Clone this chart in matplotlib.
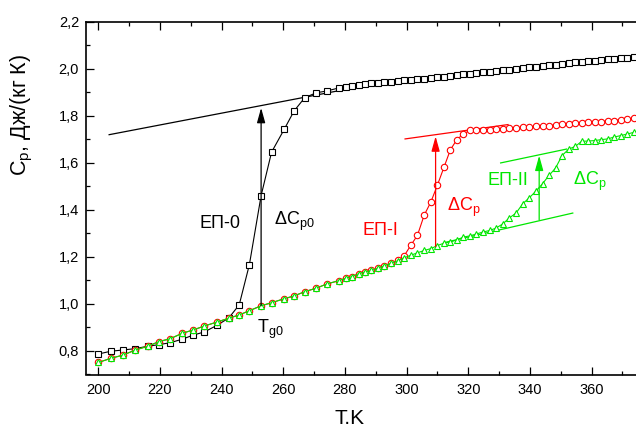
import matplotlib
matplotlib.use("Agg")
import matplotlib.pyplot as plt
from matplotlib.ticker import MultipleLocator, FuncFormatter

plt.rcParams['font.family'] = ['Liberation Sans', 'DejaVu Sans']
plt.rcParams['mathtext.fontset'] = 'custom'
plt.rcParams['mathtext.rm'] = 'Liberation Sans'
plt.rcParams['mathtext.it'] = 'Liberation Sans:italic'

# measurement temperatures, K
T = [200.0, 204.1, 207.9, 212.0, 216.0, 219.7, 223.3, 227.2, 230.7, 234.4,
     238.5, 242.3, 245.7, 249.0, 252.8, 256.2, 260.3, 263.5, 267.0, 270.7,
     274.2, 278.1, 280.2, 282.3, 284.4, 286.5, 288.6, 290.7, 292.8, 294.9,
     297.1, 299.2, 301.4, 303.5, 305.7, 307.9, 310.0, 312.1, 314.2, 316.3,
     318.4, 320.5, 322.6, 324.7, 326.9, 329.0, 331.2, 333.3, 335.5, 337.7,
     339.8, 342.0, 344.1, 346.2, 348.3, 350.4, 352.6, 354.7, 356.8, 358.9,
     361.0, 363.1, 365.2, 367.3, 369.4, 371.6, 373.7]

# specific heat, J/(kg K)
cp_ep0 = [0.787, 0.799, 0.804, 0.810, 0.820, 0.827, 0.835, 0.850, 0.867, 0.881,
          0.909, 0.940, 0.996, 1.167, 1.460, 1.645, 1.742, 1.820, 1.877, 1.897,
          1.905, 1.918, 1.921, 1.927, 1.931, 1.934, 1.938, 1.938, 1.942, 1.944,
          1.947, 1.950, 1.953, 1.954, 1.957, 1.960, 1.963, 1.966, 1.969, 1.972,
          1.975, 1.978, 1.981, 1.984, 1.987, 1.990, 1.993, 1.996, 1.999, 2.002,
          2.005, 2.008, 2.011, 2.014, 2.017, 2.020, 2.023, 2.026, 2.029, 2.031,
          2.034, 2.037, 2.040, 2.042, 2.045, 2.047, 2.049]

cp_ep1 = [0.751, 0.769, 0.782, 0.804, 0.820, 0.840, 0.852, 0.875, 0.889, 0.906,
          0.923, 0.939, 0.953, 0.971, 0.992, 1.005, 1.022, 1.034, 1.052, 1.067,
          1.085, 1.099, 1.109, 1.116, 1.128, 1.136, 1.142, 1.152, 1.162, 1.173,
          1.185, 1.204, 1.250, 1.291, 1.377, 1.434, 1.505, 1.580, 1.655, 1.698,
          1.722, 1.737, 1.739, 1.739, 1.740, 1.742, 1.745, 1.746, 1.748, 1.750,
          1.752, 1.754, 1.756, 1.758, 1.760, 1.763, 1.766, 1.767, 1.769, 1.771,
          1.773, 1.775, 1.777, 1.779, 1.782, 1.785, 1.789]

cp_ep2 = [0.751, 0.769, 0.782, 0.804, 0.820, 0.840, 0.852, 0.875, 0.889, 0.906,
          0.923, 0.939, 0.953, 0.971, 0.992, 1.005, 1.022, 1.034, 1.052, 1.067,
          1.085, 1.099, 1.109, 1.116, 1.128, 1.136, 1.142, 1.152, 1.162, 1.173,
          1.183, 1.196, 1.207, 1.217, 1.227, 1.235, 1.248, 1.258, 1.263, 1.272,
          1.284, 1.289, 1.297, 1.305, 1.312, 1.322, 1.340, 1.365, 1.386, 1.426,
          1.451, 1.480, 1.511, 1.546, 1.577, 1.630, 1.658, 1.669, 1.691, 1.692,
          1.694, 1.698, 1.701, 1.709, 1.715, 1.722, 1.729]

# baseline tangents (T pairs, Cp pairs)
tan0_T, tan0_cp = [203.5, 292.0], [1.719, 1.941]
tan1_T, tan1_cp = [299.5, 332.9], [1.701, 1.762]
tan2u_T, tan2u_cp = [330.5, 351.9], [1.599, 1.658]
tan2l_T, tan2l_cp = [312.0, 353.9], [1.260, 1.386]

# step arrows: (T, Cp from, Cp to)
arrow0 = (252.8, 0.992, 1.833)
arrow1 = (309.4, 1.244, 1.712)
arrow2 = (343.0, 1.357, 1.630)

RED = '#ff0000'
GREEN = '#00e600'

W, H = 636, 428
fig = plt.figure(figsize=(W / 100, H / 100), dpi=100)
left, right, top, bottom = 86, 650, 21.5, 374.5
ax = fig.add_axes([left / W, 1 - bottom / H, (right - left) / W, (bottom - top) / H])

ax.plot(T, cp_ep0, color='black', lw=0.8, marker='s', ms=4.2, mfc='white',
        mec='black', mew=0.8, zorder=3)
ax.plot(T, cp_ep1, color=RED, lw=0.8, marker='o', ms=4.6, mfc='white',
        mec=RED, mew=0.8, zorder=3)
ax.plot(T, cp_ep2, color=GREEN, lw=0.8, marker='^', ms=5.0, mfc='white',
        mec=GREEN, mew=0.8, zorder=4)

ax.plot(tan0_T, tan0_cp, color='black', lw=0.9, zorder=2)
ax.plot(tan1_T, tan1_cp, color=RED, lw=0.9, zorder=2)
ax.plot(tan2u_T, tan2u_cp, color=GREEN, lw=0.9, zorder=2)
ax.plot(tan2l_T, tan2l_cp, color=GREEN, lw=0.9, zorder=2)

for (xa, y0, y1), c in [(arrow0, 'black'), (arrow1, RED), (arrow2, GREEN)]:
    ax.annotate('', xy=(xa, y1), xytext=(xa, y0),
                arrowprops=dict(arrowstyle='-|>,head_length=0.9,head_width=0.25',
                                mutation_scale=10, lw=0.9, color=c,
                                shrinkA=0, shrinkB=0), zorder=5)

fs = 13
ax.text(239.5, 1.323, 'ЕП-0', fontsize=fs, ha='center', va='baseline')
ax.text(256.9, 1.336, r'ΔC$_\mathrm{p0}$', fontsize=fs, ha='left', va='baseline')
ax.text(251.4, 0.875, r'T$_\mathrm{g0}$', fontsize=fs, ha='left', va='baseline')
ax.text(291.6, 1.294, 'ЕП-I', fontsize=fs, ha='center', va='baseline', color=RED)
ax.text(313.0, 1.393, r'ΔC$_\mathrm{p}$', fontsize=fs, ha='left', va='baseline', color=RED)
ax.text(333.0, 1.506, 'ЕП-II', fontsize=fs, ha='center', va='baseline', color=GREEN)
ax.text(354.1, 1.506, r'ΔC$_\mathrm{p}$', fontsize=fs, ha='left', va='baseline', color=GREEN)

ax.set_xlim(196, 200 + (right - 98.3) / 3.083)
ax.set_ylim(0.7, 2.2)
ax.xaxis.set_major_locator(MultipleLocator(20))
ax.xaxis.set_minor_locator(MultipleLocator(10))
ax.yaxis.set_major_locator(MultipleLocator(0.2))
ax.yaxis.set_minor_locator(MultipleLocator(0.1))
ax.yaxis.set_major_formatter(FuncFormatter(lambda v, p: f'{v:.1f}'.replace('.', ',') if v > 0.75 else ''))
ax.xaxis.set_major_formatter(FuncFormatter(lambda v, p: f'{v:.0f}'))

ax.tick_params(which='both', direction='in', top=True, right=False, width=0.9)
ax.tick_params(which='major', length=5.8, labelsize=10.5)
ax.tick_params(which='minor', length=3.0)
ax.tick_params(axis='x', which='major', pad=6)
ax.tick_params(axis='y', which='major', pad=5)
for s in ax.spines.values():
    s.set_linewidth(1.2)

fig.text(22 / W, 1 - 115 / H, r'C$_\mathrm{p}$, Дж/(кг К)', rotation=90,
         fontsize=15.5, ha='center', va='center')
fig.text(350 / W, 1 - 419 / H, 'T.K', fontsize=15, ha='center', va='center')

fig.savefig('out.png', dpi=100)
